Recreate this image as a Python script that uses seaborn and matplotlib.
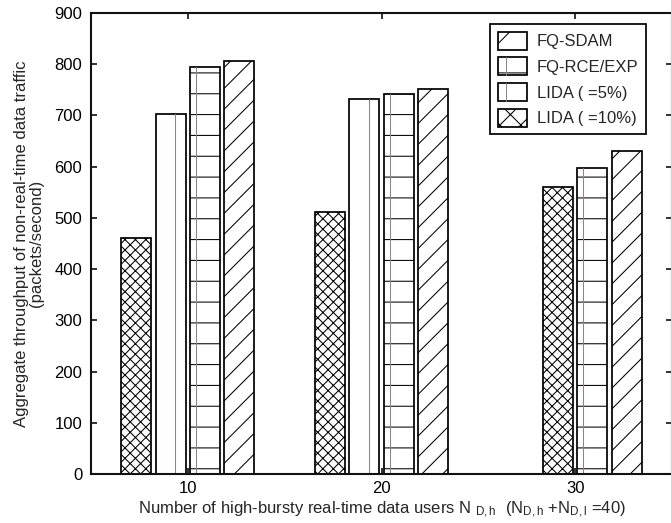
import numpy as np
import pandas as pd
import seaborn as sns
import matplotlib
matplotlib.use("Agg")
import matplotlib.pyplot as plt
from matplotlib.patches import Rectangle, Patch
from matplotlib.lines import Line2D
from matplotlib.legend_handler import HandlerBase

# ---- data -------------------------------------------------------------
users = ["10", "20", "30"]
lida_10 = [460, 512, np.nan]
lida_5 = [702, 733, 560]
fq_rce_exp = [795, 741, 597]
fq_sdam = [807, 752, 630]

schemes = ["LIDA ( =10%)", "LIDA ( =5%)", "FQ-RCE/EXP", "FQ-SDAM"]
yticks = [0, 100, 200, 300, 400, 500, 600, 700, 800, 900]

df = pd.DataFrame({
    "users": users * 4,
    "scheme": np.repeat(schemes, len(users)),
    "throughput": lida_10 + lida_5 + fq_rce_exp + fq_sdam,
})

# ---- style ------------------------------------------------------------
sns.set_style("ticks")
plt.rcParams["font.family"] = ["Liberation Sans", "DejaVu Sans"]
plt.rcParams["mathtext.fontset"] = "custom"
plt.rcParams["mathtext.rm"] = "Liberation Sans"
plt.rcParams["mathtext.it"] = "Liberation Sans:italic"
HATCH = "#8f8585"
plt.rcParams["hatch.color"] = HATCH
plt.rcParams["hatch.linewidth"] = 0.6
FS = 9.6

# bar hatch, legend-key hatch and relative position of a vertical rule
bar_style = {
    "LIDA ( =10%)": ("xxxx", "xx", None),
    "LIDA ( =5%)": ("", "", 0.66),
    "FQ-RCE/EXP": ("-", "-", 0.2),
    "FQ-SDAM": ("//", "/", None),
}
crosshatched = {("LIDA ( =5%)", "30")}

DPI = 125
W, H = 671, 523
fig = plt.figure(figsize=(W / DPI, H / DPI), dpi=DPI)
ax = fig.add_axes([91 / W, 49 / H, 581 / W, 461 / H])

sns.barplot(data=df, x="users", y="throughput", hue="scheme",
            hue_order=schemes, order=users, palette=["white"] * 4,
            saturation=1, edgecolor="black", linewidth=1.0,
            width=0.71, gap=0.13, legend=False, ax=ax)

for scheme, container in zip(schemes, ax.containers):
    hatch, _, rule = bar_style[scheme]
    for bar in container:
        x0, w, h = bar.get_x(), bar.get_width(), bar.get_height()
        if not np.isfinite(h) or h == 0:
            continue
        cat = users[int(round(x0 + w / 2))]
        if (scheme, cat) in crosshatched:
            bar.set_hatch(bar_style["LIDA ( =10%)"][0])
            continue
        bar.set_hatch(hatch)
        if rule is not None:
            ax.plot([x0 + rule * w] * 2, [0, h], color=HATCH, lw=0.6,
                    zorder=bar.get_zorder() + 0.1)

ax.set_xlim(-0.5, 2.5)
ax.set_ylim(0, 900)
ax.set_yticks(yticks)
ax.tick_params(direction="in", top=True, right=True, length=3.5, width=0.9,
               labelsize=FS, colors="black")
ax.tick_params(axis="y", pad=5)
ax.tick_params(axis="x", pad=4)
for sp in ax.spines.values():
    sp.set_visible(True)
    sp.set_linewidth(1.2)
    sp.set_color("#111111")

ax.set_ylabel("Aggregate throughput of non-real-time data traffic\n(packets/second)",
              fontsize=FS, labelpad=6, linespacing=1.0)
ax.set_xlabel(r"Number of high-bursty real-time data users N $_{\rm D,h}$  "
              r"(N$_{\rm D,h}$ +N$_{\rm D,l}$ =40)", fontsize=FS, labelpad=2)


# ---- legend -----------------------------------------------------------
class BarKey(HandlerBase):
    def __init__(self, rule=None):
        super().__init__()
        self.rule = rule

    def create_artists(self, legend, orig_handle, xdescent, ydescent,
                       width, height, fontsize, trans):
        rect = Rectangle((-xdescent, -ydescent), width, height,
                         facecolor="white", edgecolor="black", lw=1.0,
                         hatch=orig_handle.get_hatch(), transform=trans)
        artists = [rect]
        if self.rule is not None:
            x = -xdescent + self.rule * width
            artists.append(Line2D([x, x], [-ydescent, -ydescent + height],
                                  color=HATCH, lw=0.6, transform=trans))
        return artists


legend_order = ["FQ-SDAM", "FQ-RCE/EXP", "LIDA ( =5%)", "LIDA ( =10%)"]
handles, handler_map = [], {}
for name in legend_order:
    _, key_hatch, rule = bar_style[name]
    p = Patch(facecolor="white", edgecolor="black", hatch=key_hatch)
    handles.append(p)
    handler_map[p] = BarKey(0.28 if rule else None)

leg = ax.legend(handles, legend_order, handler_map=handler_map,
                loc="upper right", bbox_to_anchor=(0.955, 0.976),
                borderaxespad=0, fontsize=FS, frameon=True, fancybox=False,
                edgecolor="black", framealpha=1, handlelength=1.75,
                handleheight=1.3, labelspacing=0.45, borderpad=0.45,
                handletextpad=0.6)
leg.get_frame().set_linewidth(1.0)

fig.savefig("out.png", dpi=DPI)
